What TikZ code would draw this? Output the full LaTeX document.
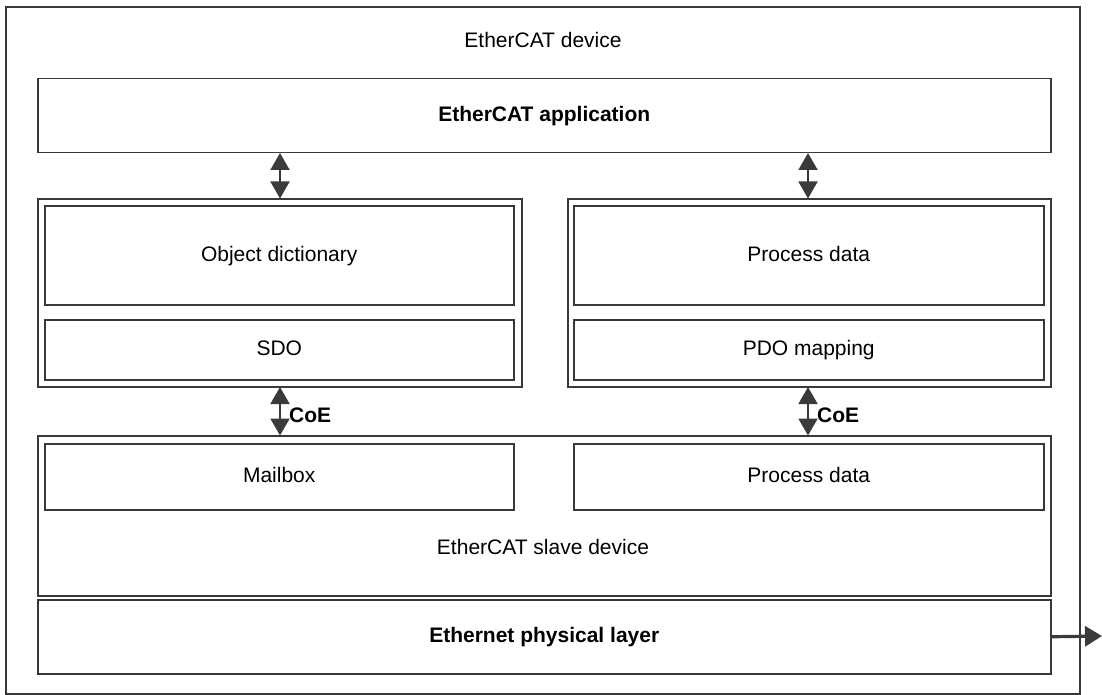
\documentclass[tikz,border=0pt]{standalone}
\usepackage{fontspec}
\setmainfont{Liberation Sans}
\usetikzlibrary{arrows.meta}
\definecolor{lc}{HTML}{383838}
\definecolor{ac}{HTML}{3A3A3A}
\begin{document}
\begin{tikzpicture}[x=1pt,y=-1pt,
  box/.style={draw=lc, line width=1.5pt},
  lbl/.style={font=\fontsize{21}{25}\selectfont, text=black, text height=15pt, text depth=4pt, inner sep=0pt},
  blbl/.style={font=\fontsize{21}{25}\selectfont\bfseries, text=black, text height=15pt, text depth=4pt, inner sep=0pt},
  dbl/.style={draw=ac, line width=2pt, {Triangle[length=17pt,width=19pt]}-{Triangle[length=17pt,width=19pt]}, shorten <=-0.5pt, shorten >=-0.5pt},
  sgl/.style={draw=ac, line width=3.2pt, -{Triangle[length=17pt,width=20pt]}}]
\useasboundingbox (0,0) rectangle (1102,695);
% outer device
\draw[box] (6,7) rectangle (1080,694);
\node[lbl] (dev) at (543,42) {EtherCAT device};
% application
\node[box, minimum width=1013pt, minimum height=74pt, anchor=north west, inner sep=0pt] (app) at (37,78) {};
\node[blbl] (appl) at (app.center) {EtherCAT application};
% left group
\node[box, minimum width=484pt, minimum height=188pt, anchor=north west, inner sep=0pt] (lg) at (37,198) {};
\node[box, minimum width=469pt, minimum height=99pt, anchor=north west, inner sep=0pt] (od) at (44,205) {};
\node[lbl] at ([yshift=-1pt]od.center) {Object dictionary};
\node[box, minimum width=469pt, minimum height=60pt, anchor=north west, inner sep=0pt] (sdo) at (44,319) {};
\node[lbl] at (sdo.center) {SDO};
% right group
\node[box, minimum width=483pt, minimum height=188pt, anchor=north west, inner sep=0pt] (rg) at (567,198) {};
\node[box, minimum width=470pt, minimum height=99pt, anchor=north west, inner sep=0pt] (pd) at (573,205) {};
\node[lbl] at ([yshift=-1pt]pd.center) {Process data};
\node[box, minimum width=470pt, minimum height=60pt, anchor=north west, inner sep=0pt] (pdo) at (573,319) {};
\node[lbl] at (pdo.center) {PDO mapping};
% slave device
\node[box, minimum width=1013pt, minimum height=160pt, anchor=north west, inner sep=0pt] (sd) at (37,435) {};
\node[box, minimum width=469pt, minimum height=66pt, anchor=north west, inner sep=0pt] (mb) at (44,443) {};
\node[lbl] at (mb.center) {Mailbox};
\node[box, minimum width=470pt, minimum height=66pt, anchor=north west, inner sep=0pt] (pd2) at (573,443) {};
\node[lbl] at (pd2.center) {Process data};
\node[lbl] (sl) at (543,549) {EtherCAT slave device};
% ethernet
\node[box, minimum width=1013pt, minimum height=74pt, anchor=north west, inner sep=0pt] (eth) at (37,599) {};
\node[blbl] at (eth.center) {Ethernet physical layer};
% connectors
\coordinate (ethout) at (1102,636);
\draw[dbl] (app.south -| 280,0) -- (lg.north -| 280,0);
\draw[dbl] (app.south -| 808,0) -- (rg.north -| 808,0);
\draw[dbl] (lg.south -| 280,0) -- (sd.north -| 280,0);
\draw[dbl] (rg.south -| 808,0) -- (sd.north -| 808,0);
\node[blbl, anchor=west] (coe1) at (289,417) {CoE};
\node[blbl, anchor=west] (coe2) at (817,417) {CoE};
\draw[sgl] (eth.east) -- (ethout);
\end{tikzpicture}
\end{document}
